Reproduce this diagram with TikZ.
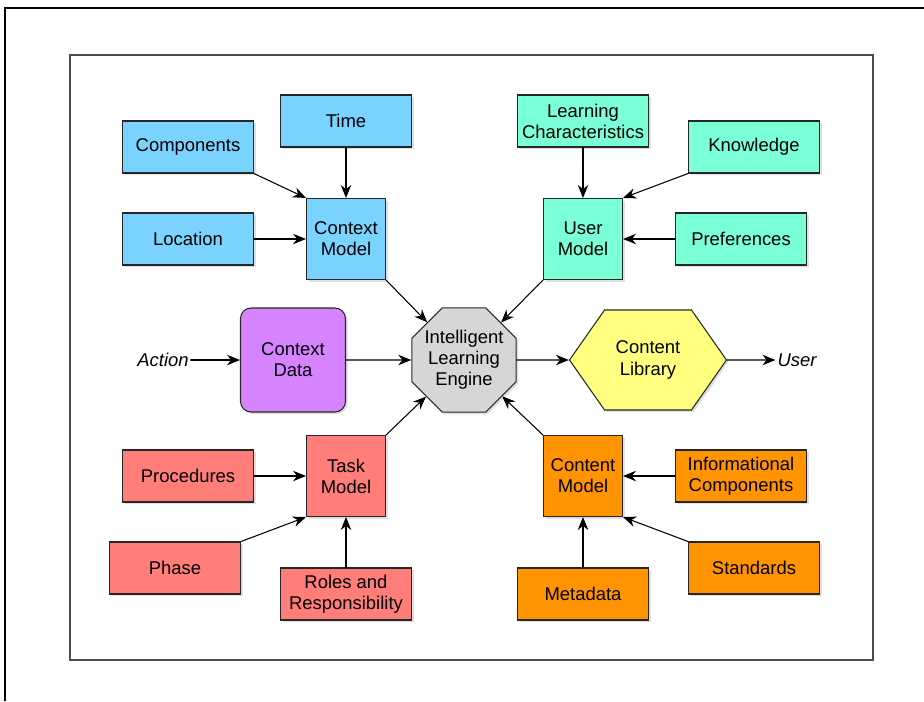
\documentclass[tikz,border=0pt]{standalone}
\usepackage{fontspec}
\setmainfont{Liberation Sans}
\usetikzlibrary{arrows.meta}
\usetikzlibrary{shapes.geometric, shapes.symbols, shadows}

\definecolor{ctxblue}{RGB}{122,211,255}
\definecolor{userteal}{RGB}{122,255,214}
\definecolor{datapurple}{RGB}{214,131,255}
\definecolor{enginegray}{RGB}{214,214,214}
\definecolor{libyellow}{RGB}{255,255,128}
\definecolor{taskred}{RGB}{255,126,121}
\definecolor{contorange}{RGB}{255,147,0}

\tikzset{
  box/.style={draw=black!85, line width=0.6pt, align=center, inner sep=2pt,
    font=\fontsize{10.5}{12}\selectfont,
    drop shadow={opacity=0.25, shadow xshift=1.2pt, shadow yshift=-1.2pt}},
  wide/.style={box, minimum width=2.62cm, minimum height=1.04cm},
  model/.style={box, minimum width=1.58cm, minimum height=1.62cm},
  link/.style={line width=0.6pt, -{Stealth[length=2.6mm, width=2.1mm]}},
  outside/.style={font=\fontsize{10.5}{12}\selectfont\itshape, inner sep=1pt},
}

\begin{document}
\begin{tikzpicture}[x=0.02cm, y=-0.02cm, line cap=round]

    \useasboundingbox (0,0) rectangle (924,701);
    \draw [line width=1.4pt, line cap=butt] (924,8) -- (5,8) -- (5,701);
    \draw [black!70, line width=1pt] (70,55) rectangle (873,660);

    % context side
    \node [wide, fill=ctxblue] (comp) at (188,147) {Components};
    \node [wide, fill=ctxblue] (time) at (346,121) {Time};
    \node [wide, fill=ctxblue] (loc) at (188,239) {Location};
    \node [model, fill=ctxblue] (ctxm) at (346,239) {Context\\Model};

    % user side
    \node [wide, fill=userteal] (lchar) at (583,121) {Learning\\Characteristics};
    \node [wide, fill=userteal] (know) at (754,147) {Knowledge};
    \node [wide, fill=userteal] (pref) at (741,239) {Preferences};
    \node [model, fill=userteal] (um) at (583,239) {User\\Model};

    % middle row
    \node [outside] (action) at (163,360) {Action};
    \node [box, fill=datapurple, rounded corners=6pt, minimum width=2.1cm, minimum height=2.08cm] (cdata) at (293,360) {Context\\Data};
    \node [box, fill=enginegray, regular polygon, regular polygon sides=8, minimum size=2.26cm, inner sep=-6pt] (engine) at (464,360) {Intelligent\\Learning\\Engine};
    \node [box, fill=libyellow, signal, signal to=east and west, signal pointer angle=110, minimum width=3.14cm, minimum height=2cm] (lib) at (648,360) {Content\\Library};
    \node [outside] (user) at (797,360) {User};

    % task side
    \node [wide, fill=taskred] (proc) at (188,476) {Procedures};
    \node [wide, fill=taskred] (phase) at (175,568) {Phase};
    \node [wide, fill=taskred] (roles) at (346,594) {Roles and\\Responsibility};
    \node [model, fill=taskred] (tm) at (346,476) {Task\\Model};

    % content side
    \node [wide, fill=contorange] (info) at (741,476) {Informational\\Components};
    \node [wide, fill=contorange] (std) at (754,568) {Standards};
    \node [wide, fill=contorange] (meta) at (583,594) {Metadata};
    \node [model, fill=contorange] (cm) at (583,476) {Content\\Model};

    \draw [link] (comp.south east) -- (ctxm.north west);
    \draw [link] (time) -- (ctxm);
    \draw [link] (loc) -- (ctxm);
    \draw [link] (lchar) -- (um);
    \draw [link] (know.south west) -- (um.north east);
    \draw [link] (pref) -- (um);
    \draw [link] (proc) -- (tm);
    \draw [link] (phase.north east) -- (tm.south west);
    \draw [link] (roles) -- (tm);
    \draw [link] (info) -- (cm);
    \draw [link] (std.north west) -- (cm.south east);
    \draw [link] (meta) -- (cm);

    \draw [link] (ctxm.south east) -- (engine);
    \draw [link] (um.south west) -- (engine);
    \draw [link] (tm.north east) -- (engine);
    \draw [link] (cm.north west) -- (engine);

    \draw [link] (action) -- (cdata);
    \draw [link] (cdata) -- (engine);
    \draw [link] (engine) -- (lib);
    \draw [link] (lib) -- (user);

\end{tikzpicture}
\end{document}
